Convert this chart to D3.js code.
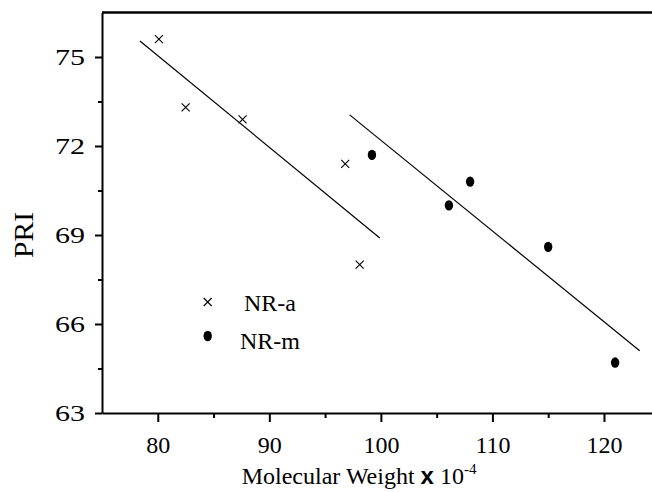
<!DOCTYPE html>
<html>
<head>
<meta charset="utf-8">
<script src="https://cdn.jsdelivr.net/npm/d3@7"></script>
<style>
  body { margin: 0; background: #fff; }
  svg { display: block; }
  text { font-family: "Liberation Serif", "Times New Roman", Times, serif; }
  .sans { font-family: "Liberation Sans", Arial, sans-serif; }
</style>
</head>
<body>
<div id="chart"></div>
<script>
// data
const nraX = [80.1, 82.5, 87.6, 96.8, 98.1]
const nraY = [75.6, 73.3, 72.9, 71.4, 68.0]
const nrmX = [99.2, 106.1, 108.0, 115.0, 121.0]
const nrmY = [71.7, 70.0, 70.8, 68.6, 64.7]

// fitted lines, start and end points
const nraFitX = [78.4, 99.9]
const nraFitY = [75.54, 68.9]
const nrmFitX = [97.2, 123.2]
const nrmFitY = [73.05, 65.1]

const xMajor = [80, 90, 100, 110, 120]
const xMinor = [85, 95, 105, 115, 125]
const yMajor = [63, 66, 69, 72, 75]
const yMinor = [64.5, 67.5, 70.5, 73.5]

const width = 652
const height = 492

const svg = d3.select("#chart")
  .append("svg")
  .attr("width", width)
  .attr("height", height)

const x = d3.scaleLinear().domain([75, 125]).range([102, 659.75])
const y = d3.scaleLinear().domain([63, 76.5]).range([413, 12.5])

// minor ticks first, major ticks on top
svg.append("g")
  .attr("transform", `translate(0,${y(63)})`)
  .call(d3.axisBottom(x).tickValues(xMinor).tickSize(5).tickFormat(""))
  .call(g => g.select(".domain").remove())
  .call(g => g.selectAll("line").attr("stroke-width", 2))

svg.append("g")
  .attr("transform", `translate(${x(75)},0)`)
  .call(d3.axisLeft(y).tickValues(yMinor).tickSize(4).tickFormat(""))
  .call(g => g.select(".domain").remove())
  .call(g => g.selectAll("line").attr("stroke-width", 2))

const xAxis = svg.append("g")
  .attr("transform", `translate(0,${y(63)})`)
  .call(d3.axisBottom(x).tickValues(xMajor).tickSize(9).tickPadding(14).tickSizeOuter(0))
xAxis.attr("font-family", null)
xAxis.select(".domain").attr("stroke-width", 2)
xAxis.selectAll("line").attr("stroke-width", 2)
xAxis.selectAll("text")
  .attr("font-size", 24)
  .attr("fill", "#000")

const yAxis = svg.append("g")
  .attr("transform", `translate(${x(75)},0)`)
  .call(d3.axisLeft(y).tickValues(yMajor).tickSize(7).tickPadding(10).tickSizeOuter(0))
yAxis.attr("font-family", null)
yAxis.select(".domain").attr("stroke-width", 2)
yAxis.selectAll("line").attr("stroke-width", 2)
yAxis.selectAll("text")
  .attr("font-size", 24)
  .attr("fill", "#000")
  .attr("textLength", 30)
  .attr("lengthAdjust", "spacingAndGlyphs")

// top frame line
svg.append("line")
  .attr("x1", x(75)).attr("x2", x(125))
  .attr("y1", y(76.5)).attr("y2", y(76.5))
  .attr("stroke", "#000")
  .attr("stroke-width", 2.5)

// fit lines
const line = d3.line().x(d => x(d[0])).y(d => y(d[1]))
svg.append("path")
  .attr("d", line(d3.zip(nraFitX, nraFitY)))
  .attr("fill", "none").attr("stroke", "#000").attr("stroke-width", 1.2)
svg.append("path")
  .attr("d", line(d3.zip(nrmFitX, nrmFitY)))
  .attr("fill", "none").attr("stroke", "#000").attr("stroke-width", 1.2)

// markers
function cross(g, cx, cy) {
  const s = 4
  g.append("path")
    .attr("d", `M${cx - s},${cy - s}L${cx + s},${cy + s}M${cx - s},${cy + s}L${cx + s},${cy - s}`)
    .attr("stroke", "#000")
    .attr("stroke-width", 1.1)
    .attr("fill", "none")
}
function dot(g, cx, cy) {
  g.append("ellipse")
    .attr("cx", cx).attr("cy", cy)
    .attr("rx", 4.2).attr("ry", 5.2)
    .attr("fill", "#000")
}

const marks = svg.append("g")
d3.zip(nraX, nraY).forEach(d => cross(marks, x(d[0]), y(d[1])))
d3.zip(nrmX, nrmY).forEach(d => dot(marks, x(d[0]), y(d[1])))

// legend
const legend = svg.append("g")
cross(legend, 207.7, 302)
dot(legend, 207.7, 336)
legend.append("text")
  .attr("x", 244).attr("y", 311)
  .attr("font-size", 24)
  .text("NR-a")
legend.append("text")
  .attr("x", 240).attr("y", 349)
  .attr("font-size", 24)
  .text("NR-m")

// axis titles
svg.append("text")
  .attr("transform", "translate(33,235) rotate(-90)")
  .attr("text-anchor", "middle")
  .attr("font-size", 27)
  .attr("textLength", 46)
  .attr("lengthAdjust", "spacingAndGlyphs")
  .text("PRI")

const xt = svg.append("text")
  .attr("x", 241.7).attr("y", 484)
  .attr("font-size", 24)
xt.append("tspan").text("Molecular Weight ")
xt.append("tspan")
  .attr("class", "sans")
  .attr("font-weight", "bold")
  .text("x")
xt.append("tspan").text(" 10")
xt.append("tspan")
  .attr("font-size", 15)
  .attr("dy", -10)
  .text("-4")
</script>
</body>
</html>
